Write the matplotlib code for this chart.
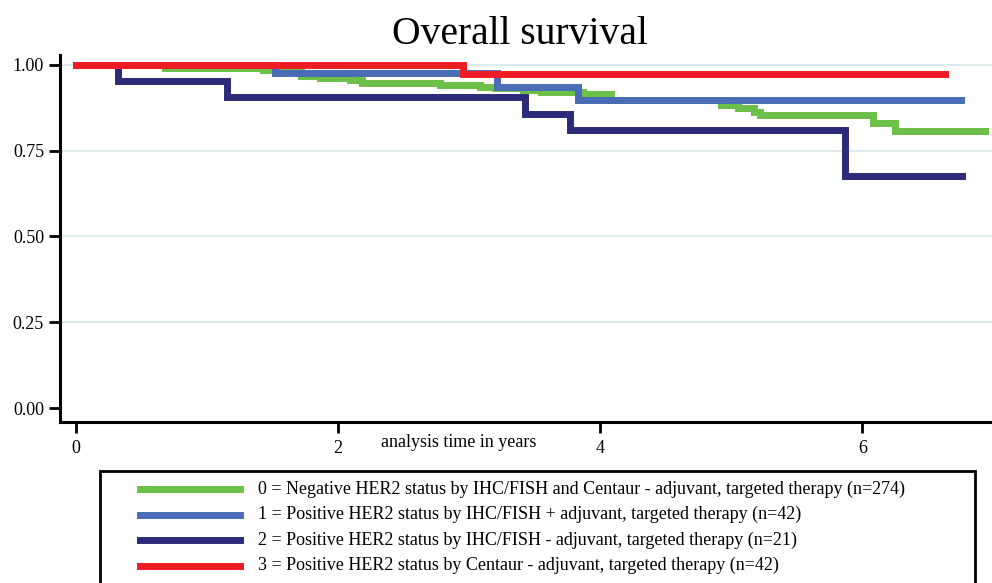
import matplotlib
matplotlib.use("Agg")
import matplotlib.pyplot as plt
from matplotlib.lines import Line2D
from matplotlib.patches import Rectangle

plt.rcParams['font.family'] = ['Liberation Serif', 'DejaVu Serif']

# Kaplan-Meier step data (time in years, survival)
t_green = [0, 0.68, 1.43, 1.72, 1.86, 2.09, 2.18, 2.78, 3.08, 3.20, 3.41, 3.55, 3.87, 4.08, 4.92, 5.05, 5.17, 5.22, 6.08, 6.25, 6.94]
s_green = [1.0, 0.992, 0.985, 0.968, 0.962, 0.955, 0.948, 0.942, 0.936, 0.933, 0.927, 0.922, 0.916, 0.898, 0.884, 0.875, 0.863, 0.853, 0.831, 0.808, 0.808]

t_blue = [0, 1.52, 3.21, 3.83, 6.75]
s_blue = [1.0, 0.977, 0.936, 0.898, 0.898]

t_navy = [0, 0.32, 1.15, 3.43, 3.77, 5.87, 6.76]
s_navy = [1.0, 0.952, 0.905, 0.857, 0.810, 0.675, 0.675]

t_red = [0, 2.95, 6.63]
s_red = [1.0, 0.974, 0.974]

labels = [
    "0 = Negative HER2 status by IHC/FISH and Centaur - adjuvant, targeted therapy (n=274)",
    "1 = Positive HER2 status by IHC/FISH + adjuvant, targeted therapy (n=42)",
    "2 = Positive HER2 status by IHC/FISH - adjuvant, targeted therapy (n=21)",
    "3 = Positive HER2 status by Centaur - adjuvant, targeted therapy (n=42)",
]
colors = ['#6cbf47', '#4a6cb6', '#2b2b7a', '#ee1d25']

yticks = [0.0, 0.25, 0.5, 0.75, 1.0]
ytick_labels = ['0.00', '0.25', '0.50', '0.75', '1.00']
xticks = [0, 2, 4, 6]

fig = plt.figure(figsize=(9.92, 5.83), dpi=100)
ax = fig.add_axes([0.0605, 0.276, 0.9395, 0.63])

for yv in yticks[1:]:
    ax.axhline(yv, color='#dde9ea', lw=1.5, zorder=0)

series = [(t_green, s_green), (t_blue, s_blue), (t_navy, s_navy), (t_red, s_red)]
for (t, s), c in zip(series, colors):
    ax.step(t, s, where='post', color=c, lw=5, solid_joinstyle='miter', zorder=3)

ax.set_xlim(-0.122, 6.99)
ax.set_ylim(-0.041, 1.029)
ax.set_xticks(xticks)
ax.set_xticklabels([str(v) for v in xticks])
ax.set_yticks(yticks)
ax.set_yticklabels(ytick_labels)
ax.tick_params(axis='both', direction='out', length=8, width=2, labelsize=13, colors='black')
ax.tick_params(axis='x', pad=5)
for side in ['top', 'right']:
    ax.spines[side].set_visible(False)
for side in ['left', 'bottom']:
    ax.spines[side].set_linewidth(2.2)

ax.text(2.92, -0.1, 'analysis time in years', ha='center', va='center', fontsize=13,
        transform=ax.transData)

fig.text(0.524, 0.94, 'Overall survival', ha='center', va='center', fontsize=28.5)

# legend box
W, H = 992, 583
fig.add_artist(Rectangle((100 / W, -0.01), 875 / W, (H - 471) / H + 0.01, transform=fig.transFigure,
                         fill=False, edgecolor='black', lw=2))
for i, (lab, c) in enumerate(zip(labels, colors)):
    yy = 1 - (489 + 25.6 * i) / H
    fig.add_artist(Line2D([140 / W, 240 / W], [yy, yy], color=c, lw=5, transform=fig.transFigure))
    fig.text(258 / W, yy, lab, ha='left', va='center', fontsize=13)

fig.savefig('out.png', dpi=100)
